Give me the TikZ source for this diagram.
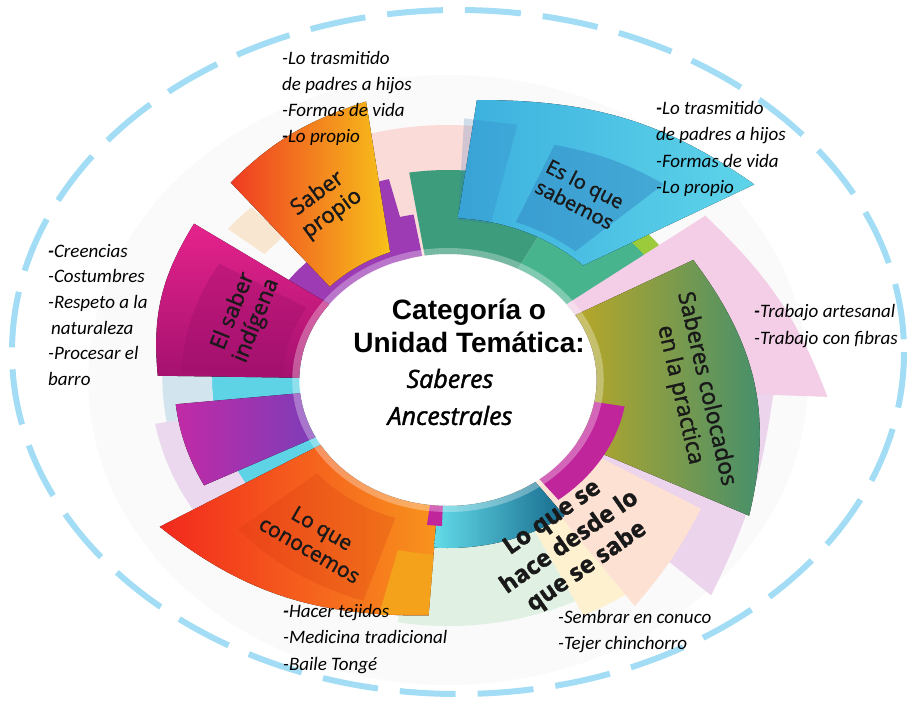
\documentclass[tikz,border=0pt]{standalone}
\usepackage{fontspec}
\setmainfont{Carlito}
\newfontfamily\segfont{Open Sans}[FakeBold=1.4]
\newfontface\subface{Open Sans Italic}[FakeBold=1.6]
\newfontfamily\headfont{Liberation Sans}
\usepackage{tikz}

\definecolor{dashblue}{HTML}{A3DDF5}
\definecolor{palepink}{HTML}{FADBD7}
\definecolor{lavpink}{HTML}{F3CEE6}
\definecolor{lavlow}{HTML}{ECD4EC}
\definecolor{lavleft}{HTML}{EBD8EE}
\definecolor{mint}{HTML}{E0F0E2}
\definecolor{paleyel}{HTML}{FEF1CF}
\definecolor{peach}{HTML}{FDE1D2}
\definecolor{greentop}{HTML}{3C9C7C}
\definecolor{greensec}{HTML}{48B48E}
\definecolor{lime}{HTML}{9BCB3B}
\definecolor{cyanband}{HTML}{5ED3E6}
\definecolor{greyblue}{HTML}{D2E5EE}
\definecolor{purplering}{HTML}{9C3BB4}
\definecolor{palepeach}{HTML}{F9E6D0}
\definecolor{bluemid}{HTML}{3CB0DE}
\definecolor{bluelight}{HTML}{5ED4EA}
\definecolor{bluedark}{HTML}{2A6FB8}
\definecolor{redorange}{HTML}{EF3B23}
\definecolor{orangeyel}{HTML}{F8951D}
\definecolor{yeltip}{HTML}{F7C21A}
\definecolor{magtop}{HTML}{E5238C}
\definecolor{magbot}{HTML}{A5116F}
\definecolor{magdark}{HTML}{9C0F6A}
\definecolor{purpleout}{HTML}{C12AA6}
\definecolor{purplein}{HTML}{7D3DB8}
\definecolor{conred}{HTML}{F2281D}
\definecolor{conorange}{HTML}{F8941D}
\definecolor{condark}{HTML}{D83A10}
\definecolor{conyel}{HTML}{F4A11B}
\definecolor{olive}{HTML}{B8A728}
\definecolor{sagegreen}{HTML}{3F8E70}
\definecolor{teallight}{HTML}{62DBE8}
\definecolor{tealdark}{HTML}{176A8D}
\definecolor{magstrip}{HTML}{C0259C}

\begin{document}
\begin{tikzpicture}[x=1pt, y=-1pt,
		seg/.style={font=\segfont\fontsize{22}{25}\selectfont, align=center, text=black!90},
		list/.style={font=\itshape\fontsize{19}{26}\selectfont, align=left, anchor=north west, inner sep=0pt}]
	\useasboundingbox (0,0) rectangle (916,704);
	\draw[dashblue, line width=6pt, dash pattern=on 56pt off 22pt] (458,352) ellipse[x radius=446, y radius=342];
	\begin{scope}[shift={(448,380)}, xscale=1.18, yscale=-1]
		\fill[black!2] (0,0) circle[radius=305];
		\foreach \a/\b/\ri/\ro/\col in {60/112/126/255/palepink, 190/232/170/252/lavleft,
				-100/-64/126/246/mint, -64/-55/126/262/paleyel,
				62/99/126/210/greentop, 30/62/126/222/greensec, 36/46/208/224/lime,
				170/218/126/200/cyanband, 178/190/200/242/greyblue, 100/172/126/168/purplering,
				104/110/126/207/purplering, 134/141/200/240/palepeach} {
			\fill[\col] (\a:\ri) arc[start angle=\a, end angle=\b, radius=\ri] -- (\b:\ro) arc[start angle=\b, end angle=\a, radius=\ro] -- cycle;
		}
		\fill[lavpink] (-4:126) arc[start angle=-4, end angle=37, radius=126] -- (37:273) to[bend right=12] (-3:322) -- cycle;
		\fill[lavlow] (-45:126) arc[start angle=-45, end angle=-3, radius=126] -- (-3:276) to[bend right=8] (-44:310) -- cycle;
		\fill[peach] (-55:126) arc[start angle=-55, end angle=-31, radius=126] -- (-31:250) to[bend right=6] (-55:276) -- cycle;
		\fill[left color=bluemid, right color=bluelight] (45:162) arc[start angle=45, end angle=87, radius=162] -- (85:281) to[bend right=20] (37:325) -- cycle;
		\fill[bluedark, opacity=.35] (50:168) arc[start angle=50, end angle=70, radius=168] -- (69:252) to[bend right=10] (47:268) -- cycle;
		\fill[bluedark, opacity=.2] (77:160) arc[start angle=77, end angle=87, radius=160] -- (87:262) -- (77:262) -- cycle;
		\fill[left color=redorange, middle color=orangeyel, right color=yeltip] (111:137) arc[start angle=111, end angle=137, radius=137] -- (133:270) to[bend right=14] (104:287) -- cycle;
		\fill[top color=magtop, bottom color=magbot] (179:126) arc[start angle=179, end angle=143, radius=126] -- (144:266) to[bend left=16] (179:246) -- cycle;
		\fill[magdark, opacity=.35] (149:140) arc[start angle=149, end angle=178, radius=140] -- (178:226) arc[start angle=178, end angle=149, radius=226] -- cycle;
		\fill[left color=purpleout, right color=purplein] (186:126) arc[start angle=186, end angle=207, radius=126] -- (207:232) arc[start angle=207, end angle=186, radius=232] -- cycle;
		\fill[left color=conred, right color=conorange] (211:126) arc[start angle=211, end angle=266, radius=126] -- (266:236) to[bend right=22] (211:285) -- cycle;
		\fill[condark, opacity=.25] (220:145) arc[start angle=220, end angle=252, radius=145] -- (252:232) arc[start angle=252, end angle=220, radius=232] -- cycle;
		\fill[conyel] (256:175) arc[start angle=256, end angle=266, radius=175] -- (266:235) -- (256:242) -- cycle;
		\fill[left color=olive, right color=sagegreen] (-30:126) arc[start angle=-30, end angle=31, radius=126] -- (30:240) to[bend right=22] (-28:289) -- cycle;
		\fill[left color=teallight, right color=tealdark] (266:126) arc[start angle=266, end angle=306, radius=126] -- (306:168) arc[start angle=306, end angle=266, radius=168] -- cycle;
		\fill[magstrip] (-52:126) arc[start angle=-52, end angle=-10, radius=126] -- (-10:152) arc[start angle=-10, end angle=-52, radius=152] -- cycle;
		\fill[magstrip] (263:126) arc[start angle=263, end angle=268, radius=126] -- (268:146) arc[start angle=268, end angle=263, radius=146] -- cycle;
		\fill[white, opacity=.3] (0,0) circle[radius=132];
		\fill[white] (0,0) circle[radius=125];
	\end{scope}
	\node[font=\headfont\bfseries\fontsize{28}{33}\selectfont, align=center] (head) at (469,326) {Categoría o\\Unidad Temática:};
	\node[font=\subface\fontsize{25}{37}\selectfont, align=center] (sub) at (450,397) {Saberes\\Ancestrales};
	\node[seg, rotate=36] (propio) at (325,204) {Saber\\propio};
	\node[seg, rotate=68] (indigena) at (245,316) {El saber\\indígena};
	\node[seg, font=\segfont\fontsize{20}{23}\selectfont, rotate=-27] (sabemos) at (580,194) {Es lo que\\sabemos};
	\node[seg, font=\segfont\fontsize{23}{27}\selectfont, rotate=-77] (practica) at (693,392) {Saberes colocados\\en la practica};
	\node[seg, font=\segfont\fontsize{21}{25}\selectfont, rotate=-30] (conocemos) at (316,539) {Lo que\\conocemos};
	\node[seg, font=\segfont\bfseries\fontsize{24}{30}\selectfont, rotate=35] (hace) at (570,543) {Lo que se\\hace desde lo\\que se sabe};
	\node[list] (lstTop) at (282,51) {-Lo trasmitido\\de padres a hijos\\-Formas de vida\\\textbf{-}Lo propio};
	\node[list, font=\itshape\fontsize{19}{26.5}\selectfont] (lstSabemos) at (656,101) {\textbf{-}Lo trasmitido\\de padres a hijos\\-Formas de vida\\-Lo propio};
	\node[list, font=\itshape\fontsize{19}{25.6}\selectfont] (lstIndigena) at (48,244) {\textbf{-}Creencias\\-Costumbres\\-Respeto a la\\\hspace{3pt}naturaleza\\-Procesar el\\barro};
	\node[list, font=\itshape\fontsize{19}{27}\selectfont] (lstPractica) at (754,304) {\textbf{-}Trabajo artesanal\\-Trabajo con fibras};
	\node[list, font=\itshape\fontsize{19}{26.5}\selectfont] (lstConocemos) at (283,604) {\textbf{-}Hacer tejidos\\-Medicina tradicional\\-Baile Tongé};
	\node[list] (lstHace) at (558,610) {-Sembrar en conuco\\-Tejer chinchorro};
\end{tikzpicture}
\end{document}
